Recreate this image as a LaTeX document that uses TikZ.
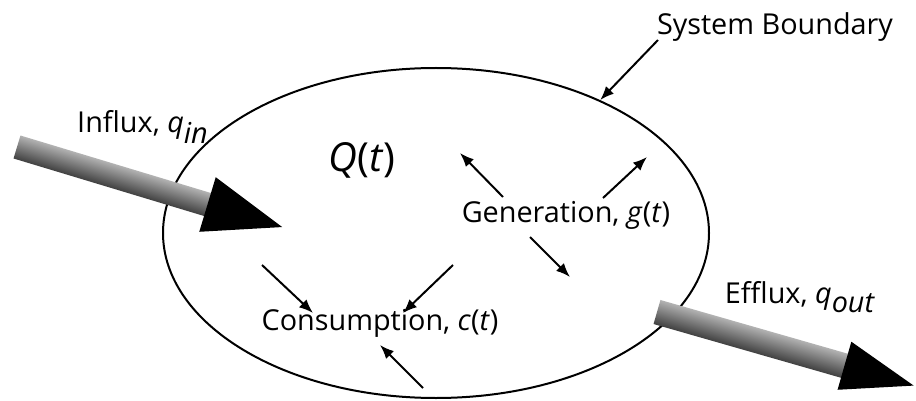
\documentclass[tikz,border=0pt]{standalone}
\usepackage{fontspec}
\setmainfont{Open Sans}
\usetikzlibrary{arrows.meta,shapes.geometric}

\begin{document}
\begin{tikzpicture}[x=0.5pt,y=-0.5pt]

\tikzset{lbl/.style={font=\fontsize{14.4}{17}\selectfont,inner sep=0pt},
  arr/.style={line width=1pt,-{Latex[length=7pt,width=5.5pt]}},
  shaft/.style={top color=black!30,middle color=white,bottom color=black!75}}

\useasboundingbox (0,0) rectangle (916,401);

% system
\node[draw,ellipse,line width=1pt,minimum width=273pt,minimum height=165pt] (sys) at (436,233) {};

% labels
\node[lbl] (sb) at (775,27) {System Boundary};
\node[lbl] (qin) at (143,127) {Influx, \textit{q}$_{\mbox{\itshape in}}$};
\node[lbl] (qout) at (800,297) {Efflux, \textit{q}$_{\mbox{\itshape out}}$};
\node[lbl,font=\fontsize{20}{24}\selectfont] (Q) at (362,160) {\textit{Q}(\textit{t})};
\node[lbl] (gen) at (566,215) {Generation, \textit{g}(\textit{t})};
\node[lbl] (cons) at (380,323) {Consumption, \textit{c}(\textit{t})};

% influx and efflux
\coordinate (intail) at (17,147);
\coordinate (outtail) at (657,312);
\begin{scope}[transform canvas={shift={(intail)},rotate=-16.8}]
\shade[shaft] (0,-12) rectangle (200,12);
\fill (199,-28.5) -- (277,0) -- (199,28.5) -- cycle;
\end{scope}
\begin{scope}[transform canvas={shift={(outtail)},rotate=-16}]
\shade[shaft] (0,-12.5) rectangle (196,12.5);
\fill (195,-25) -- (267,0) -- (195,25) -- cycle;
\end{scope}

% free ends
\coordinate (g1) at (460,153);
\coordinate (g2) at (647,157);
\coordinate (g3) at (570,277);
\coordinate (c1) at (262,265);
\coordinate (c2) at (453,265);
\coordinate (c3) at (423,388);

\draw[arr] ([shift={(-117,13)}]sb.center) -- (sys.39);

\draw[arr] ([shift={(-63,-18)}]gen.center) -- (g1);
\draw[arr] ([shift={(37,-17)}]gen.center) -- (g2);
\draw[arr] ([shift={(-36,22)}]gen.center) -- (g3);

\draw[arr] (c1) -- ([shift={(-67,-10)}]cons.center);
\draw[arr] (c2) -- ([shift={(23,-10)}]cons.center);
\draw[arr] (c3) -- ([shift={(0,22)}]cons.center);

\end{tikzpicture}
\end{document}
